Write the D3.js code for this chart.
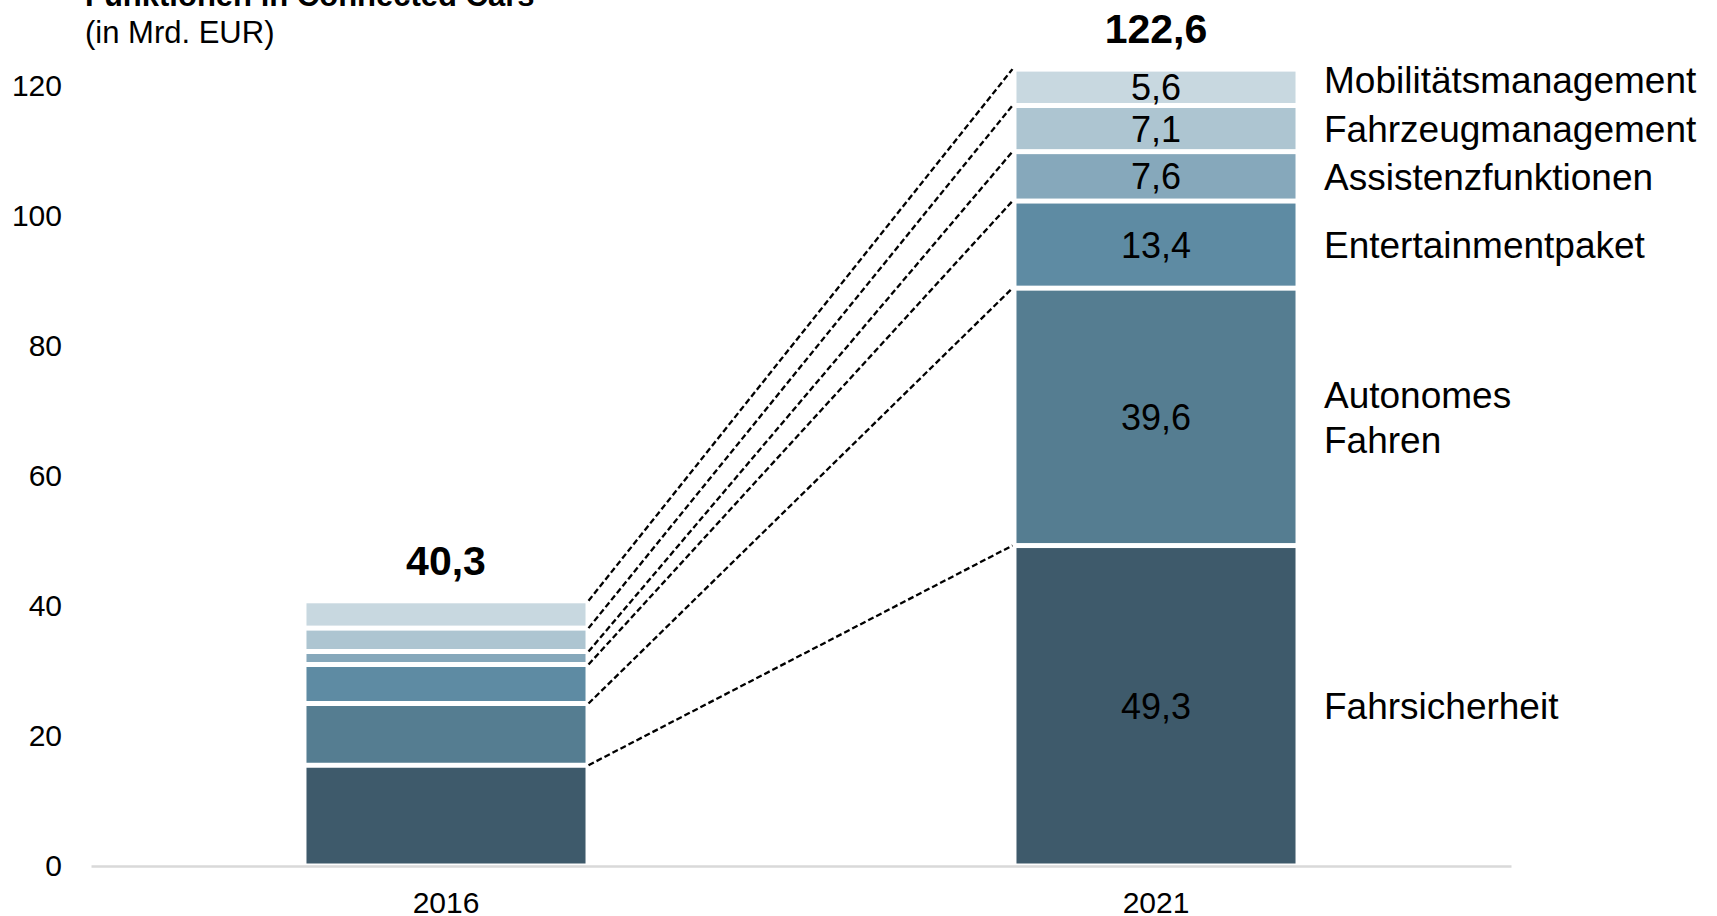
<!DOCTYPE html>
<meta charset="utf-8">
<style>* {padding:0; margin:0; border: 0; outline: 0;} body {background:#fff;}</style>
<body>
<script src="https://cdnjs.cloudflare.com/ajax/libs/d3/7.8.5/d3.min.js"></script>
<script>

// data, bottom to top
years = ["2016", "2021"]
series = ["Fahrsicherheit", "Autonomes Fahren", "Entertainmentpaket", "Assistenzfunktionen", "Fahrzeugmanagement", "Mobilitätsmanagement"]
labelLines = [["Fahrsicherheit"], ["Autonomes", "Fahren"], ["Entertainmentpaket"], ["Assistenzfunktionen"], ["Fahrzeugmanagement"], ["Mobilitätsmanagement"]]
values2016 = [15.5, 9.5, 6.0, 2.0, 3.6, 4.2]
values2021 = [49.3, 39.6, 13.4, 7.6, 7.1, 5.6]
valueLabels2021 = ["49,3", "39,6", "13,4", "7,6", "7,1", "5,6"]
totals = ["40,3", "122,6"]
yTicks = [0, 20, 40, 60, 80, 100, 120]
colors = ["#3e5a6b", "#557d91", "#5e8ba3", "#86a8bb", "#adc5d1", "#c8d8e0"]

width = 1717
height = 916
font = "'Liberation Sans', Arial, sans-serif"
gap = 2.5

svg = d3.select('body')
        .append('svg')
          .attr('width', width)
          .attr('height', height)
          .style('font-family', font)

x = d3.scaleBand().domain(years).range([91, 1511]).paddingInner(0.607).paddingOuter(0.3035)
y = d3.scaleLinear().domain([0, 120]).range([866, 86])

// stack the two columns
function stackUp(vals){
  var acc = 0
  return vals.map(function(v, i){
    var d = {i: i, y0: acc, y1: acc + v}
    acc += v
    return d
  })
}
stacks = [stackUp(values2016), stackUp(values2021)]

// title (first line cut off at the top edge)
svg.append('text').attr('x', 85).attr('y', 6)
   .style('font-size', '31px').style('font-weight', 'bold')
   .text('Funktionen in Connected Cars')
svg.append('text').attr('x', 85).attr('y', 43)
   .style('font-size', '31px')
   .text('(in Mrd. EUR)')

// y axis
yAxis = svg.append('g').attr('transform', 'translate(91,0)')
   .call(d3.axisLeft(y).tickValues(yTicks).tickSize(0).tickPadding(29))
yAxis.select('.domain').remove()
yAxis.selectAll('text').style('font-size', '30px').style('font-family', font).attr('fill', '#000')

// x axis
xAxis = svg.append('g').attr('transform', 'translate(0,866)')
   .call(d3.axisBottom(x).tickSize(0).tickPadding(26))
xAxis.select('.domain').attr('stroke', '#d9d9d9').attr('stroke-width', 2.5)
xAxis.selectAll('text').style('font-size', '30px').style('font-family', font).attr('fill', '#000')

// connector lines between the columns
x0 = x("2016") + x.bandwidth() + 3
x1 = x("2021") - 4
svg.selectAll('line.conn')
   .data(d3.range(series.length))
 .enter().append('line')
   .attr('class', 'conn')
   .attr('x1', x0)
   .attr('y1', function(i){ return y(stacks[0][i].y1) })
   .attr('x2', x1)
   .attr('y2', function(i){ return y(stacks[1][i].y1) })
   .attr('stroke', '#000')
   .attr('stroke-width', 2.3)
   .attr('stroke-dasharray', '6,3')

// bars
cols = svg.selectAll('g.col')
   .data(stacks)
 .enter().append('g')
   .attr('class', 'col')
   .attr('transform', function(d, j){ return 'translate(' + x(years[j]) + ',0)' })

cols.selectAll('rect')
   .data(function(d){ return d })
 .enter().append('rect')
   .attr('x', 0)
   .attr('width', x.bandwidth())
   .attr('y', function(d){ return y(d.y1) + gap })
   .attr('height', function(d){ return y(d.y0) - y(d.y1) - 2 * gap })
   .attr('fill', function(d){ return colors[d.i] })

// totals on top
svg.selectAll('text.total')
   .data(stacks)
 .enter().append('text')
   .attr('class', 'total')
   .attr('x', function(d, j){ return x(years[j]) + x.bandwidth() / 2 })
   .attr('y', function(d){ return y(d[d.length - 1].y1) - 26 })
   .attr('text-anchor', 'middle')
   .style('font-size', '41px').style('font-weight', 'bold')
   .text(function(d, j){ return totals[j] })

// values inside 2021 column
svg.selectAll('text.val')
   .data(stacks[1])
 .enter().append('text')
   .attr('class', 'val')
   .attr('x', x("2021") + x.bandwidth() / 2)
   .attr('y', function(d){ return (y(d.y0) + y(d.y1)) / 2 })
   .attr('dy', '0.36em')
   .attr('text-anchor', 'middle')
   .style('font-size', '36px')
   .text(function(d){ return valueLabels2021[d.i] })

// series labels on the right
lab = svg.selectAll('text.lab')
   .data(stacks[1])
 .enter().append('text')
   .attr('class', 'lab')
   .attr('x', 1324)
   .attr('y', function(d){
      var c = (y(d.y0) + y(d.y1)) / 2
      if (d.i == series.length - 1) c -= 8   // top label sits a bit higher
      return c - (labelLines[d.i].length - 1) * 22.5
   })
   .style('font-size', '37px')

lab.selectAll('tspan')
   .data(function(d){ return labelLines[d.i] })
 .enter().append('tspan')
   .attr('x', 1324)
   .attr('dy', function(t, k){ return k == 0 ? '0.36em' : '45px' })
   .text(function(t){ return t })

</script>
